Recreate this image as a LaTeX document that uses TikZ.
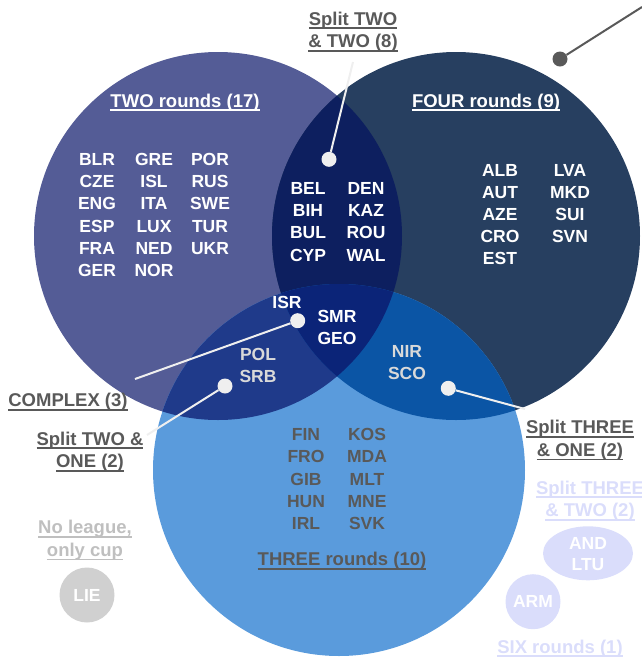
\documentclass[tikz,border=0pt]{standalone}
\usepackage{fontspec}
\setmainfont{Liberation Sans}
\usepackage{xcolor}
\usetikzlibrary{shapes.geometric}
\definecolor{twoc}{HTML}{545C96}
\definecolor{fourc}{HTML}{273F60}
\definecolor{threec}{HTML}{5A9BDC}
\definecolor{twofourc}{HTML}{0D1F5F}
\definecolor{twothreec}{HTML}{1F3A8A}
\definecolor{threefourc}{HTML}{0B55A5}
\definecolor{allc}{HTML}{0B2478}
\definecolor{greyc}{HTML}{595959}
\definecolor{palec}{HTML}{DADDFB}
\definecolor{cupc}{HTML}{D0D0D0}
\definecolor{linkc}{HTML}{EFEFEF}
% underline with a thicker rule
\newcommand{\ulbox}[1]{\setbox0\hbox{#1}\rlap{\vrule height -2.4pt depth 4.2pt width \wd0}\box0}

\begin{document}
\begin{tikzpicture}[x=1pt,y=-1pt,
		cty/.style={font=\bfseries\fontsize{17.5}{22}\selectfont, inner sep=0pt, text height=12.5pt, text depth=0pt, white},
		heading/.style={font=\bfseries\fontsize{18.5}{22.5}\selectfont, align=center, inner sep=0pt, anchor=north},
		blob/.style={circle, fill=linkc, inner sep=0pt, minimum size=15pt},
		link/.style={draw=linkc, line width=2pt}]
	\useasboundingbox (0,0) rectangle (642,657);
	\coordinate (cTwo) at (218,236);
	\coordinate (cFour) at (456,236);
	\coordinate (cThree) at (339,470);
	% circles
	\fill[twoc] (cTwo) circle[radius=184pt];
	\fill[fourc] (cFour) circle[radius=184pt];
	\fill[threec] (cThree) circle[radius=186pt];
	\begin{scope}
		\clip (cTwo) circle[radius=184pt];
		\fill[twofourc] (cFour) circle[radius=184pt];
		\fill[twothreec] (cThree) circle[radius=186pt];
	\end{scope}
	\begin{scope}
		\clip (cFour) circle[radius=184pt];
		\fill[threefourc] (cThree) circle[radius=186pt];
	\end{scope}
	\begin{scope}
		\clip (cTwo) circle[radius=184pt];
		\clip (cFour) circle[radius=184pt];
		\fill[allc] (cThree) circle[radius=186pt];
	\end{scope}
	% countries
	\foreach \c [count=\i from 0] in {BLR,CZE,ENG,ESP,FRA,GER}
		\node[cty] (\c) at (97,159.3+22.15*\i) {\c};
	\foreach \c [count=\i from 0] in {GRE,ISL,ITA,LUX,NED,NOR}
		\node[cty] (\c) at (154,159.3+22.15*\i) {\c};
	\foreach \c [count=\i from 0] in {POR,RUS,SWE,TUR,UKR}
		\node[cty] (\c) at (210,159.3+22.15*\i) {\c};
	\foreach \c [count=\i from 0] in {ALB,AUT,AZE,CRO,EST}
		\node[cty] (\c) at (500,170+22.1*\i) {\c};
	\foreach \c [count=\i from 0] in {LVA,MKD,SUI,SVN}
		\node[cty] (\c) at (570,170+22.1*\i) {\c};
	\foreach \c [count=\i from 0] in {BEL,BIH,BUL,CYP}
		\node[cty] (\c) at (308,188.3+22.2*\i) {\c};
	\foreach \c [count=\i from 0] in {DEN,KAZ,ROU,WAL}
		\node[cty] (\c) at (366,188.3+22.2*\i) {\c};
	\foreach \c [count=\i from 0] in {FIN,FRO,GIB,HUN,IRL}
		\node[cty, greyc] (\c) at (306,434.3+22.25*\i) {\c};
	\foreach \c [count=\i from 0] in {KOS,MDA,MLT,MNE,SVK}
		\node[cty, greyc] (\c) at (367,434.3+22.25*\i) {\c};
	\node[cty] (ISR) at (287,302) {ISR};
	\node[cty] (SMR) at (337,316) {SMR};
	\node[cty] (GEO) at (337,338.5) {GEO};
	\node[cty, black!15] (POL) at (258,354) {POL};
	\node[cty, black!15] (SRB) at (258,376.7) {SRB};
	\node[cty, black!15] (NIR) at (407,351.7) {NIR};
	\node[cty, black!15] (SCO) at (407,373.3) {SCO};
	% outside the circles
	\node[ellipse, fill=palec, minimum width=90pt, minimum height=54pt, inner sep=0pt] (sixtwo) at (588,553.3) {};
	\node[cty] (AND) at (588,543.3) {AND};
	\node[cty] (LTU) at (588,564.3) {LTU};
	\node[circle, fill=palec, minimum size=55pt, inner sep=0pt] (six) at (533,601.7) {};
	\node[cty] (ARM) at (six) {ARM};
	\node[circle, fill=cupc, minimum size=55pt, inner sep=0pt] (cup) at (87,595) {};
	\node[cty] (LIE) at (cup) {LIE};
	% headings
	\node[heading, white] (twoh) at (185,93.4) {\ulbox{TWO rounds (17)}};
	\node[heading, white] (fourh) at (486,93.4) {\ulbox{FOUR rounds (9)}};
	\node[heading, greyc] (splittt) at (353,11.4) {\ulbox{Split TWO}\\\ulbox{\& TWO (8)}};
	\node[heading, greyc] (complex) at (68,392.7) {\ulbox{COMPLEX (3)}};
	\node[heading, greyc] (splitto) at (90,431.4) {\ulbox{Split TWO \&}\\\ulbox{ONE (2)}};
	\node[heading, greyc] (splitho) at (580,420.1) {\ulbox{Split THREE}\\\ulbox{\& ONE (2)}};
	\node[heading, palec] (splitht) at (590,480.4) {\ulbox{Split THREE}\\\ulbox{\& TWO (2)}};
	\node[heading, greyc] (threeh) at (342,551.7) {\ulbox{THREE rounds (10)}};
	\node[heading, black!25] (cuph) at (85,520.1) {\ulbox{No league,}\\\ulbox{only cup}};
	\node[heading, palec] (sixh) at (560,639.4) {\ulbox{SIX rounds (1)}};
	% pointers
	\node[blob] (ptt) at (329,159.3) {};
	\node[blob] (pcx) at (297.7,320.7) {};
	\node[blob] (pto) at (225,386) {};
	\node[blob] (pho) at (448.3,388.3) {};
	\node[blob, fill=greyc] (pfour) at (560,59) {};
	\coordinate (ett) at (353,62);
	\coordinate (ecx) at (135,379);
	\coordinate (eto) at (147,435);
	\coordinate (eho) at (525,409);
	\coordinate (efour) at (642,7);
	\draw[link] (ett) -- (ptt);
	\draw[link] (ecx) -- (pcx);
	\draw[link] (eto) -- (pto);
	\draw[link] (pho) -- (eho);
	\draw[link, draw=greyc] (pfour) -- (efour);
\end{tikzpicture}
\end{document}
